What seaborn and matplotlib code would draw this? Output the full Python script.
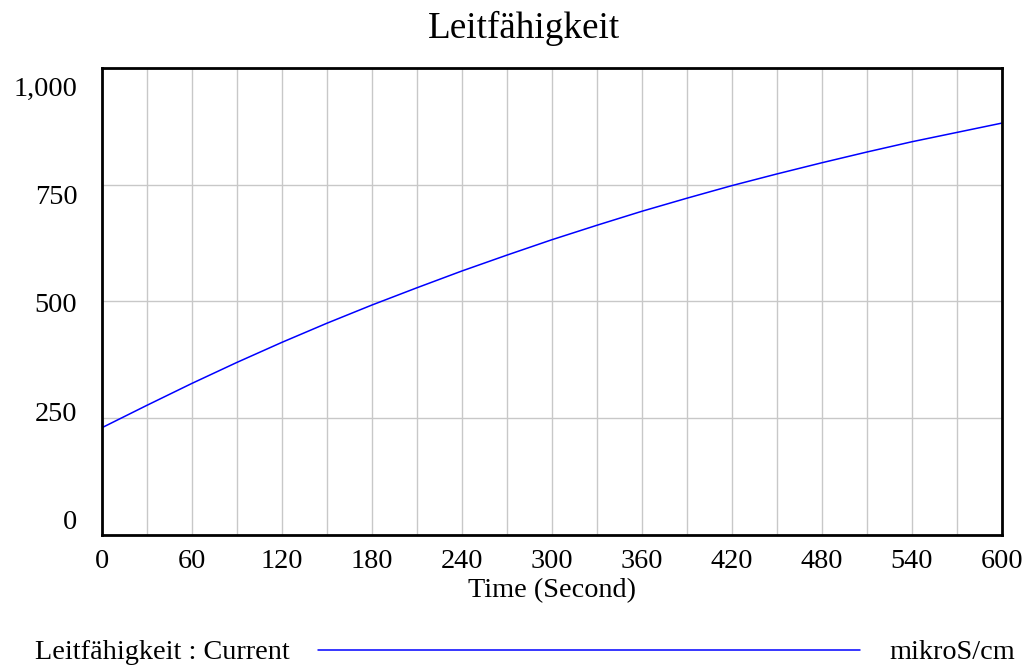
import numpy as np
import pandas as pd
import matplotlib
matplotlib.use("Agg")
import matplotlib.pyplot as plt
import matplotlib.transforms as mtransforms
from matplotlib.lines import Line2D
import seaborn as sns

# ---- data ----
time_s = [0, 30, 60, 90, 120, 150, 180, 210, 240, 270, 300,
          330, 360, 390, 420, 450, 480, 510, 540, 570, 600]
leitfaehigkeit = [229, 277, 324, 369, 412, 453, 492, 529, 565, 599, 632,
                  663, 693, 721, 748, 773, 797, 820, 842, 862, 882]
x_ticks = [0, 60, 120, 180, 240, 300, 360, 420, 480, 540, 600]
y_ticks = [0, 250, 500, 750, 1000]
y_tick_labels = ["0", "250", "500", "750", "1,000"]

title = "Leitfähigkeit"
x_label = "Time (Second)"
legend_label = "Leitfähigkeit : Current"
unit_label = "mikroS/cm"

df = pd.DataFrame({"Time": time_s, "Leitfähigkeit": leitfaehigkeit})

sns.set_style("white")
plt.rcParams["font.family"] = ["Liberation Serif", "DejaVu Serif"]
plt.rcParams["text.color"] = "black"
plt.rcParams["axes.labelcolor"] = "black"

W, H = 1031, 666
fig = plt.figure(figsize=(W / 100, H / 100), dpi=100)
ax_left, ax_right, ax_top, ax_bottom = 101.7, 1002.0, 68.0, 534.7
ax = fig.add_axes([ax_left / W, 1 - ax_bottom / H,
                   (ax_right - ax_left) / W, (ax_bottom - ax_top) / H])

sns.lineplot(data=df, x="Time", y="Leitfähigkeit", ax=ax, color="#0000ff",
             linewidth=1.1, legend=False)

ax.set_xlim(0, 600)
ax.set_ylim(0, 1000)

# grid
ax.set_xticks(np.arange(0, 601, 30), minor=True)
ax.set_xticks(x_ticks)
ax.set_yticks(y_ticks)
ax.set_yticklabels(y_tick_labels)
ax.grid(True, which="both", axis="x", color="#c8c8c8", linewidth=1.0)
ax.grid(True, which="major", axis="y", color="#c8c8c8", linewidth=1.0)
ax.set_axisbelow(True)
ax.tick_params(axis="both", which="both", length=0, labelsize=20.3, colors="black")
ax.tick_params(axis="x", pad=10.5)
ax.tick_params(axis="y", pad=17.6)

for s in ax.spines.values():
    s.set_visible(True)
    s.set_color("black")
    s.set_linewidth(2.0)

ax.set_xlabel(x_label, fontsize=20.3, labelpad=3, color="black")
ax.set_ylabel("")

# y tick labels are spread evenly inside the axis range (as in the reference)
shifts_px = [-15.2, -6.8, 1.5, 9.7, 18.0]   # positive = downward
for lab, d in zip(ax.get_yticklabels(), shifts_px):
    off = mtransforms.ScaledTranslation(0, -d / 100, fig.dpi_scale_trans)
    lab.set_transform(lab.get_transform() + off)

# title
fig.text(524 / W, 1 - 38.3 / H, title, fontsize=26.7, ha="center",
         va="baseline", color="black")

# legend row
fig.text(35 / W, 1 - 659 / H, legend_label, fontsize=20.3, ha="left",
         va="baseline", color="black")
fig.add_artist(Line2D([318 / W, 860 / W], [1 - 649.5 / H, 1 - 649.5 / H],
                      color="#0000ff", linewidth=1.1, transform=fig.transFigure))
fig.text(1015 / W, 1 - 659 / H, unit_label, fontsize=20.3, ha="right",
         va="baseline", color="black")

fig.savefig("out.png", dpi=100)
